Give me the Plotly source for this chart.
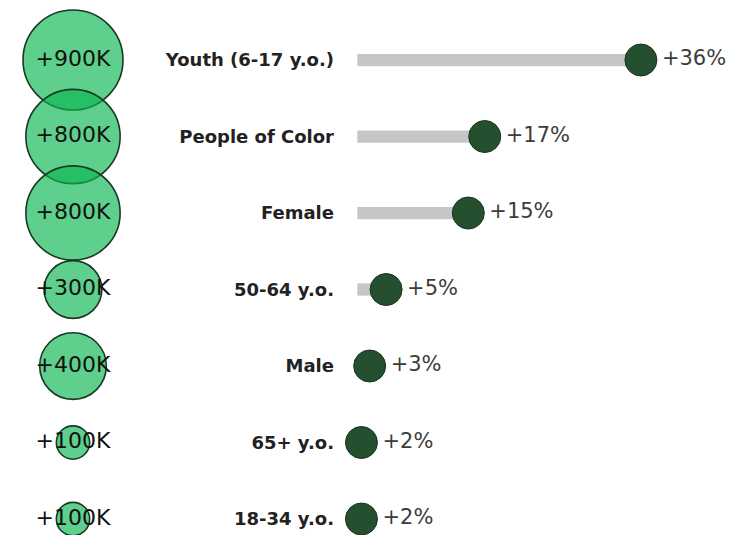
import plotly.graph_objects as go

groups = ["Youth (6-17 y.o.)", "People of Color", "Female", "50-64 y.o.",
          "Male", "65+ y.o.", "18-34 y.o."]
pct_change = [36, 17, 15, 5, 3, 2, 2]
added_people_k = [900, 800, 800, 300, 400, 100, 100]

bubble_labels = [f"+{v}K" for v in added_people_k]
pct_labels = [f"+{v}%" for v in pct_change]

BAR_START = 1.5  # grey track starts a little right of zero
FONT = "DejaVu Sans"
W, H = 741, 527  # page adds an 8px body margin

fig = go.Figure()

# left column: bubbles sized by added people
fig.add_trace(go.Scatter(
    x=["added"] * len(groups), y=groups, xaxis="x", yaxis="y",
    mode="markers+text", text=bubble_labels, textposition="middle center",
    marker=dict(size=added_people_k, sizemode="area", sizeref=0.18,
                color="rgba(11,182,80,0.66)", opacity=1,
                line=dict(color="#173a22", width=1.6)),
    textfont=dict(family=FONT, size=22, color="#111111"),
    cliponaxis=False, hoverinfo="skip",
))

# grey tracks
fig.add_trace(go.Bar(
    x=[v - BAR_START for v in pct_change], base=BAR_START, y=groups,
    orientation="h", xaxis="x2", yaxis="y",
    marker=dict(color="#c6c6c6", line=dict(width=0)), width=0.16,
    hoverinfo="skip",
))

# dots + percentage labels
fig.add_trace(go.Scatter(
    x=pct_change, y=groups, xaxis="x2", yaxis="y",
    mode="markers+text", text=pct_labels, textposition="middle right",
    marker=dict(size=32, color="#25502f", line=dict(color="#17331e", width=1)),
    textfont=dict(family=FONT, size=21, color="#3c3c3c"),
    cliponaxis=False, hoverinfo="skip",
))

fig.update_layout(
    width=W, height=H,
    margin=dict(l=0, r=0, t=0, b=0),
    showlegend=False,
    paper_bgcolor="white", plot_bgcolor="white",
    xaxis=dict(domain=[0, 130 / W], range=[-1, 1], visible=False, anchor="y"),
    xaxis2=dict(domain=[337 / W, 1], range=[0, 49.15], visible=False, anchor="y"),
    yaxis=dict(
        type="category", categoryorder="array", categoryarray=groups,
        range=[6.209, -0.680], anchor="x2",
        showgrid=False, zeroline=False, showline=False, ticks="",
        ticklabelstandoff=10,
        tickfont=dict(family=FONT, size=18, color="#222222", weight="bold"),
    ),
)

fig.write_html("out.html")
